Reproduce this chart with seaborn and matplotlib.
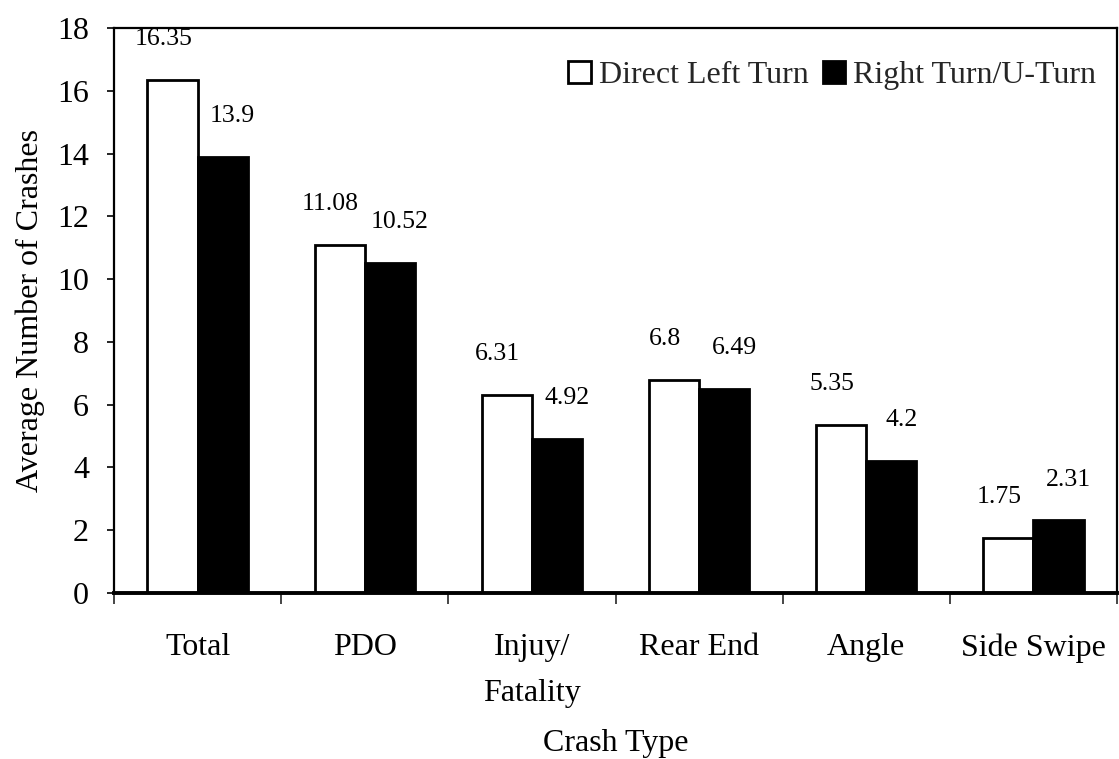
import matplotlib
matplotlib.use("Agg")
import matplotlib.pyplot as plt
import seaborn as sns
import pandas as pd
import numpy as np
from matplotlib.ticker import FixedLocator, MultipleLocator

# Average crashes per site, by crash type and U-turn treatment
categories = ["Total", "PDO", "Injuy/\nFatality", "Rear End", "Angle", "Side Swipe"]
direct_left_turn = [16.35, 11.08, 6.31, 6.8, 5.35, 1.75]
right_turn_u_turn = [13.9, 10.52, 4.92, 6.49, 4.2, 2.31]
series_names = ["Direct Left Turn", "Right Turn/U-Turn"]

df = pd.DataFrame({
    "Crash Type": categories * 2,
    "Crashes": direct_left_turn + right_turn_u_turn,
    "Treatment": [series_names[0]] * len(categories) + [series_names[1]] * len(categories),
})

sns.set_style("white")
plt.rcParams["font.family"] = ["Liberation Serif", "DejaVu Serif"]
plt.rcParams["axes.linewidth"] = 1.6

fig = plt.figure(figsize=(11.19, 7.59), dpi=100)
ax = fig.add_axes([114 / 1119, 1 - 593 / 759, (1117 - 114) / 1119, (593 - 28) / 759])

sns.barplot(
    data=df, x="Crash Type", y="Crashes", hue="Treatment",
    hue_order=series_names, order=categories,
    palette=["white", "black"], saturation=1, width=0.6,
    edgecolor="black", linewidth=2.0, legend=False, ax=ax,
)

# Value labels above each bar, nudged outward from the pair centre
shifts = [-0.055, 0.06]
for container, dx in zip(ax.containers, shifts):
    for bar in container.patches:
        h = bar.get_height()
        ax.text(bar.get_x() + bar.get_width() / 2 + dx, h + 1.3, f"{h:g}",
                ha="center", va="center", fontsize=18.5, color="black")

ax.set_ylim(0, 18)
ax.set_xlim(-0.5, len(categories) - 0.5)
ax.yaxis.set_major_locator(MultipleLocator(2))
ax.tick_params(axis="y", which="major", direction="out", length=5, width=1.2,
               left=True, labelsize=23, pad=13, colors="black")
ax.tick_params(axis="x", which="major", length=0, labelsize=23, pad=29, colors="black")
for lbl in ax.get_xticklabels():
    lbl.set_linespacing(1.75)
ax.xaxis.set_minor_locator(FixedLocator(np.arange(-0.5, len(categories), 1.0)))
ax.tick_params(axis="x", which="minor", direction="out", length=8, width=1.2, bottom=True)

for side in ["top", "right", "left"]:
    ax.spines[side].set_visible(True)
    ax.spines[side].set_color("black")
    ax.spines[side].set_linewidth(1.6)
ax.spines["bottom"].set_color("black")
ax.spines["bottom"].set_linewidth(2.8)

ax.set_ylabel("Average Number of Crashes", fontsize=23, color="black")
ax.yaxis.set_label_coords(-0.069, 0.5)
ax.set_xlabel("Crash Type", fontsize=23, color="black")
ax.xaxis.set_label_coords(0.5, -0.24)

ax.legend(ax.containers, series_names, ncol=2, frameon=False, fontsize=23,
          loc="upper right", bbox_to_anchor=(0.992, 0.965), borderaxespad=0,
          handlelength=0.7, handleheight=0.7, handletextpad=0.25,
          columnspacing=0.45)

fig.savefig("out.png", dpi=100)
